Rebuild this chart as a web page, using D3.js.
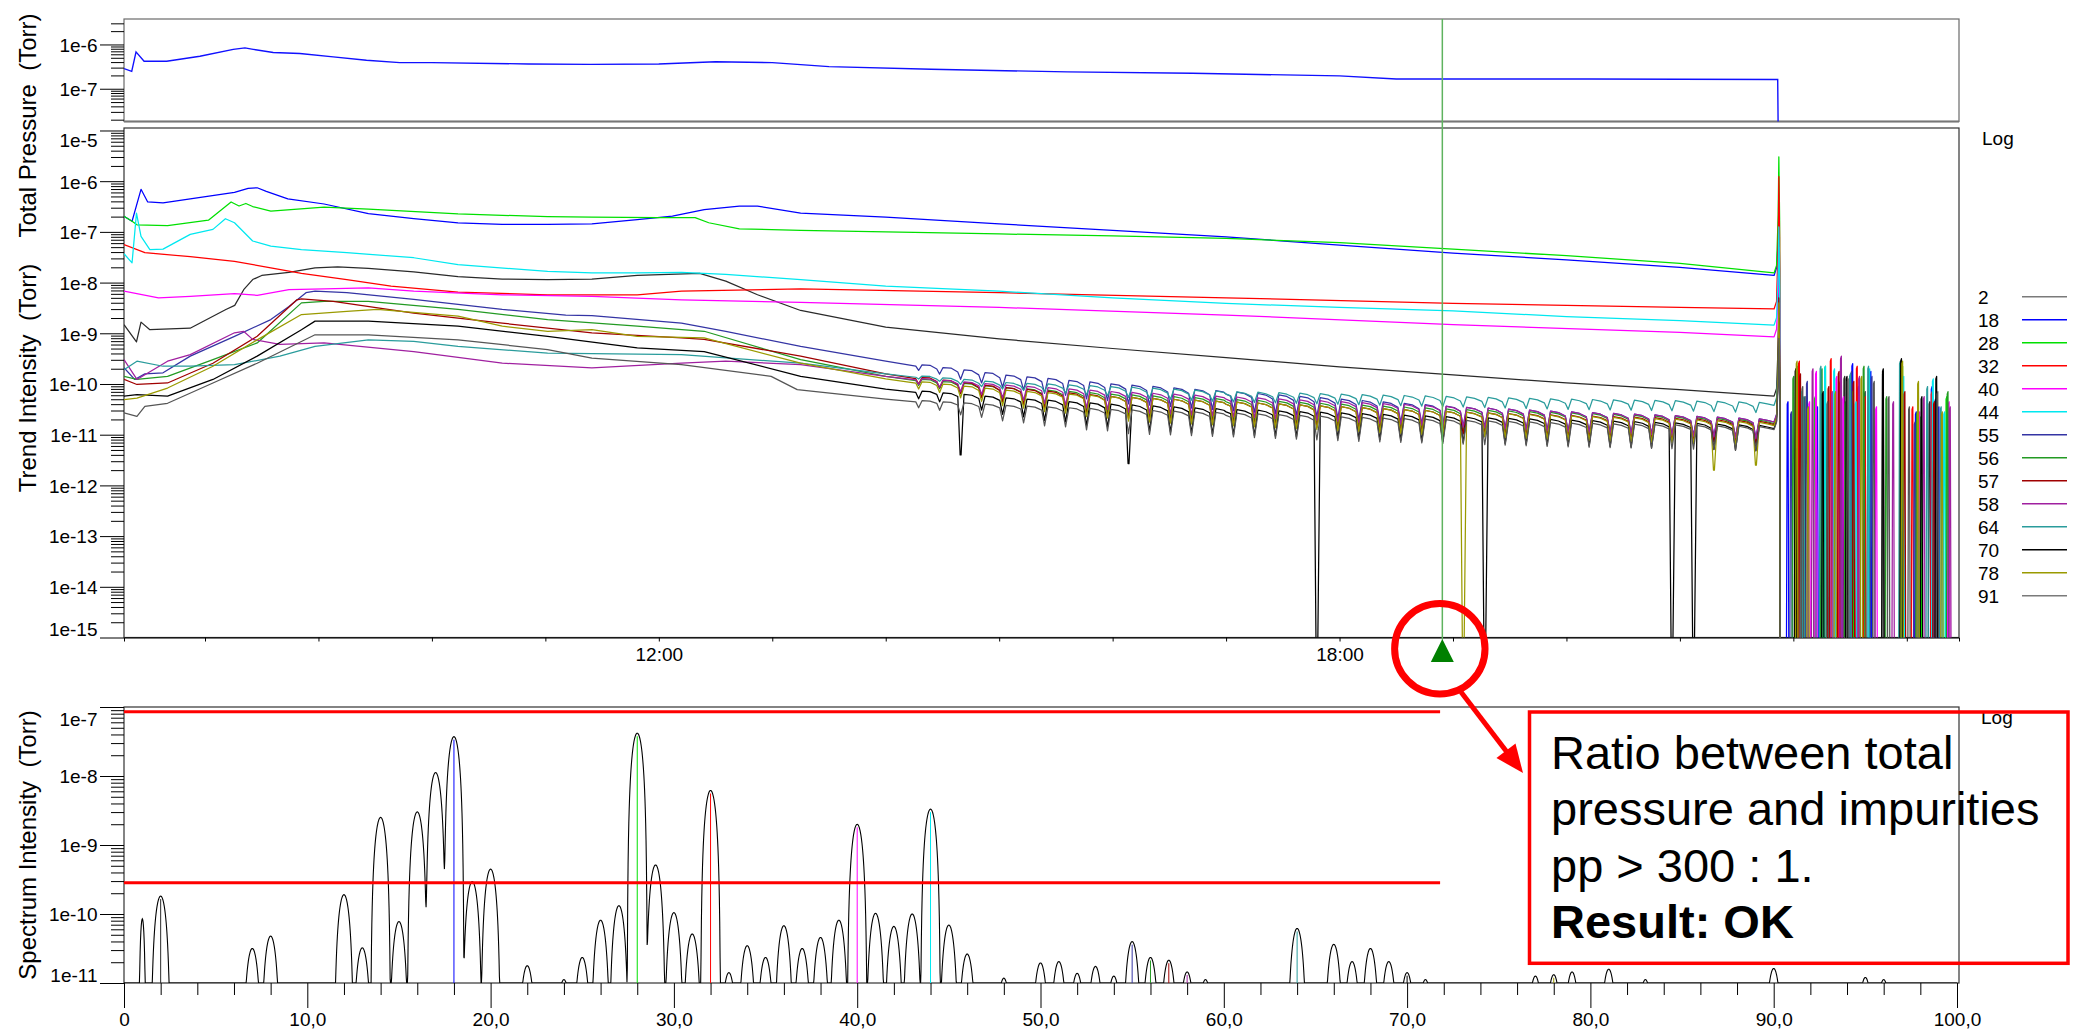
<!DOCTYPE html>
<html><head><meta charset="utf-8">
<script src="https://d3js.org/d3.v7.min.js"></script>
<style>
html,body{margin:0;padding:0;background:#fff}
svg{display:block}
text{font-family:"Liberation Sans",Arial,Helvetica,sans-serif;fill:#000}
</style></head>
<body>
<svg id="chart" width="2076" height="1033" xmlns="http://www.w3.org/2000/svg"></svg>
<script>
// ================= DATA =================
// Legend masses and colours
const masses = [2, 18, 28, 32, 40, 44, 55, 56, 57, 58, 64, 70, 78, 91];
const legendColors = ["#7a7a7a","#0000ff","#00e000","#ff0000","#ff00ff","#00e8f0","#3434a4","#239a23","#a00000","#a020a0","#2a9c9c","#000000","#9a9a00","#7a7a7a"];
const lineColors   = ["#2a2a2a","#0000ff","#00e000","#ff0000","#ff00ff","#00e8f0","#3434a4","#239a23","#a00000","#a020a0","#2a9c9c","#000000","#9a9a00","#555555"];

// time axis (decimal hours)
const timeStart = 7.286, timeEnd = 23.46;
const timeLabelHours = [12, 18];
const cursorTime = 18.906;

// Total pressure [hour, log10 Torr]
const totalPressure = [[7.286,-6.545],[7.354,-6.607],[7.392,-6.168],[7.463,-6.38],[7.662,-6.38],[7.955,-6.266],[8.249,-6.11],[8.352,-6.077],[8.425,-6.11],[8.601,-6.18],[8.836,-6.205],[9.13,-6.28],[9.423,-6.357],[9.717,-6.41],[10.0,-6.41],[10.85,-6.44],[11.4,-6.45],[12.0,-6.44],[12.5,-6.39],[13.0,-6.41],[13.5,-6.50],[14.4,-6.56],[15.6,-6.62],[16.7,-6.65],[18.0,-6.71],[18.5,-6.78],[19.0,-6.78],[20.2,-6.78],[21.0,-6.785],[21.862,-6.79],[21.866,-7.9]];

// Trend intensities [hour, log10 Torr]
const trend2  = [[7.286,-8.83],[7.396,-9.17],[7.436,-8.78],[7.514,-8.93],[7.869,-8.90],[8.184,-8.53],[8.262,-8.45],[8.341,-8.14],[8.42,-7.94],[8.50,-7.86],[8.74,-7.80],[8.97,-7.71],[9.17,-7.69],[9.44,-7.72],[9.84,-7.79],[10.23,-7.88],[10.62,-7.93],[11.02,-7.94],[11.41,-7.93],[11.81,-7.86],[12.36,-7.82],[12.59,-7.97],[12.87,-8.24],[13.25,-8.55],[14.0,-8.88],[15.0,-9.11],[16.0,-9.30],[17.0,-9.48],[18.0,-9.66],[19.0,-9.82],[20.0,-9.98],[21.0,-10.11],[21.83,-10.24]];
const trend18 = [[7.286,-6.69],[7.357,-6.79],[7.436,-6.16],[7.495,-6.41],[7.63,-6.43],[7.87,-6.35],[8.26,-6.22],[8.38,-6.14],[8.46,-6.13],[8.54,-6.20],[8.73,-6.35],[9.05,-6.45],[9.44,-6.64],[9.84,-6.74],[10.23,-6.82],[10.62,-6.85],[11.02,-6.85],[11.41,-6.84],[11.81,-6.76],[12.12,-6.69],[12.40,-6.56],[12.71,-6.49],[12.87,-6.49],[13.25,-6.63],[14.0,-6.71],[15.0,-6.84],[16.0,-6.97],[17.0,-7.10],[18.0,-7.26],[19.0,-7.42],[20.0,-7.55],[21.0,-7.70],[21.83,-7.86]];
const trend28 = [[7.286,-6.69],[7.357,-6.79],[7.40,-6.86],[7.67,-6.875],[8.03,-6.77],[8.23,-6.41],[8.30,-6.49],[8.36,-6.44],[8.42,-6.50],[8.58,-6.59],[9.05,-6.51],[9.44,-6.55],[10.23,-6.645],[11.02,-6.70],[11.41,-6.71],[12.0,-6.72],[12.32,-6.72],[12.44,-6.82],[12.71,-6.94],[13.25,-6.97],[14.0,-7.00],[15.0,-7.04],[16.0,-7.08],[17.0,-7.13],[18.0,-7.21],[19.0,-7.34],[20.0,-7.47],[21.0,-7.62],[21.83,-7.81]];
const trend32 = [[7.286,-7.25],[7.47,-7.41],[7.87,-7.49],[8.26,-7.58],[8.58,-7.71],[8.85,-7.82],[9.25,-7.94],[9.64,-8.07],[10.23,-8.19],[11.02,-8.24],[11.81,-8.24],[12.20,-8.17],[13.25,-8.125],[15.0,-8.20],[17.0,-8.30],[19.0,-8.41],[21.0,-8.49],[21.83,-8.52]];
const trend40 = [[7.286,-8.17],[7.59,-8.30],[7.87,-8.27],[8.26,-8.22],[8.46,-8.25],[8.74,-8.14],[9.05,-8.125],[9.44,-8.105],[9.84,-8.17],[10.62,-8.24],[11.41,-8.27],[12.20,-8.34],[13.25,-8.39],[15.0,-8.49],[17.0,-8.64],[19.0,-8.83],[21.0,-8.98],[21.83,-9.07]];
const trend44 = [[7.286,-7.43],[7.357,-7.61],[7.396,-6.63],[7.436,-7.09],[7.514,-7.35],[7.63,-7.34],[7.87,-7.05],[8.07,-6.95],[8.18,-6.74],[8.26,-6.82],[8.42,-7.18],[8.58,-7.28],[8.85,-7.35],[9.25,-7.41],[9.84,-7.51],[10.23,-7.645],[11.02,-7.78],[11.41,-7.81],[11.81,-7.81],[12.20,-7.80],[12.59,-7.84],[13.25,-7.94],[14.0,-8.07],[15.0,-8.17],[16.0,-8.30],[17.0,-8.41],[18.0,-8.49],[19.0,-8.56],[20.0,-8.67],[21.0,-8.75],[21.83,-8.84]];
const trend55 = [[7.286,-9.68],[7.38,-9.91],[7.47,-9.80],[7.63,-9.78],[7.87,-9.45],[8.26,-9.06],[8.58,-8.73],[8.74,-8.47],[8.89,-8.20],[8.97,-8.17],[9.25,-8.20],[9.84,-8.33],[10.62,-8.53],[11.18,-8.64],[11.41,-8.65],[12.20,-8.80],[12.59,-8.96],[13.25,-9.26],[14.0,-9.55],[15.0,-9.85],[16.0,-10.05],[17.0,-10.2],[18.0,-10.35],[19.0,-10.5],[20.0,-10.6],[21.0,-10.68],[21.83,-10.75]];
const trend56 = [[7.286,-9.85],[7.40,-9.91],[7.67,-9.85],[8.07,-9.52],[8.46,-9.19],[8.85,-8.40],[9.05,-8.37],[9.44,-8.37],[10.23,-8.53],[11.02,-8.73],[11.81,-8.86],[12.40,-8.96],[13.25,-9.52],[14.0,-9.85],[15.0,-10.1],[16.0,-10.25],[17.0,-10.35],[18.0,-10.45],[19.0,-10.55],[20.0,-10.62],[21.0,-10.7],[21.83,-10.78]];
const trend57 = [[7.286,-9.91],[7.40,-10.01],[7.67,-9.98],[8.07,-9.59],[8.46,-9.06],[8.81,-8.34],[8.85,-8.32],[9.13,-8.37],[9.84,-8.60],[10.62,-8.80],[11.41,-8.99],[12.20,-9.09],[12.40,-9.12],[13.25,-9.45],[14.0,-9.8],[15.0,-10.1],[16.0,-10.3],[17.0,-10.4],[18.0,-10.5],[19.0,-10.6],[20.0,-10.67],[21.0,-10.73],[21.83,-10.8]];
const trend58 = [[7.286,-9.52],[7.40,-9.91],[7.67,-9.55],[7.87,-9.42],[8.26,-8.99],[8.34,-8.96],[8.42,-9.12],[8.66,-9.22],[9.05,-9.19],[9.84,-9.36],[10.62,-9.59],[11.41,-9.68],[12.20,-9.59],[12.59,-9.55],[13.25,-9.62],[14.0,-9.85],[15.0,-10.05],[16.0,-10.2],[17.0,-10.3],[18.0,-10.4],[19.0,-10.5],[20.0,-10.6],[21.0,-10.68],[21.83,-10.75]];
const trend64 = [[7.286,-9.72],[7.40,-9.55],[7.63,-9.65],[7.87,-9.65],[8.26,-9.62],[8.66,-9.45],[8.97,-9.26],[9.44,-9.13],[9.84,-9.16],[10.23,-9.26],[11.02,-9.39],[12.20,-9.42],[13.25,-9.59],[14.0,-9.8],[15.0,-10.0],[16.0,-10.1],[17.0,-10.2],[18.0,-10.25],[19.0,-10.3],[20.0,-10.35],[21.0,-10.38],[21.83,-10.42]];
const trend70 = [[7.286,-10.24],[7.40,-10.21],[7.67,-10.24],[8.07,-9.91],[8.46,-9.45],[8.85,-8.93],[8.97,-8.76],[9.44,-8.76],[10.23,-8.86],[11.02,-9.06],[11.81,-9.29],[12.40,-9.36],[13.25,-9.85],[14.0,-10.1],[15.0,-10.3],[16.0,-10.45],[17.0,-10.55],[18.0,-10.62],[19.0,-10.7],[20.0,-10.76],[21.0,-10.82],[21.83,-10.88]];
const trend78 = [[7.286,-10.31],[7.40,-10.28],[7.67,-10.08],[8.07,-9.65],[8.46,-9.13],[8.85,-8.63],[9.25,-8.57],[9.52,-8.53],[10.23,-8.66],[10.62,-8.86],[11.02,-8.96],[11.41,-8.93],[11.81,-9.06],[12.40,-9.09],[13.25,-9.59],[14.0,-9.9],[15.0,-10.15],[16.0,-10.3],[17.0,-10.4],[18.0,-10.5],[19.0,-10.6],[20.0,-10.68],[21.0,-10.75],[21.83,-10.82]];
const trend91 = [[7.286,-10.57],[7.40,-10.64],[7.47,-10.44],[7.67,-10.38],[8.07,-9.98],[8.46,-9.59],[8.97,-9.03],[9.44,-9.03],[10.23,-9.13],[11.02,-9.32],[11.41,-9.49],[12.20,-9.62],[12.99,-9.85],[13.22,-10.11],[14.0,-10.3],[15.0,-10.45],[16.0,-10.55],[17.0,-10.62],[18.0,-10.7],[19.0,-10.76],[20.0,-10.82],[21.0,-10.86],[21.83,-10.9]];
const trendSeries = [trend2,trend18,trend28,trend32,trend40,trend44,trend55,trend56,trend57,trend58,trend64,trend70,trend78,trend91];

// periodic dips of the low-level masses (hours), relative strength, depth per mass (decades)
const dipTimes = [14.29,14.475,14.66,14.845,15.03,15.215,15.40,15.585,15.77,15.955,16.14,16.325,16.51,16.695,16.88,17.065,17.25,17.435,17.62,17.80,17.985,18.17,18.355,18.54,18.725,18.91,19.09,19.28,19.46,19.645,19.83,20.015,20.20,20.385,20.57,20.75,20.93,21.12,21.30,21.49,21.67];
const dipScale = [0.3,0.35,0.5,0.55,0.65,0.7,0.8,0.8,0.9,0.9,1,1,1,1,1,1,1,1,1,1,1,1,1,1,1,1,1,1,1,1,1,1,1,1,1,1,1,1,1,1,1];
const dipDepth = [0,0,0,0,0,0,0.32,0.36,0.38,0.34,0.15,0.45,0.42,0.42];
const deepDips70 = [[14.66,-11.4],[16.14,-11.57],[17.80,-16],[19.28,-16],[20.93,-16],[21.12,-16]];
const deepDips78 = [[19.09,-16],[21.30,-11.7],[21.67,-11.6]];
const deepDips = {70: deepDips70, 78: deepDips78};

// burst at the end of the run (peak log10 Torr)
const burstPeak = [-8.2,-6.53,-5.52,-5.91,-7.3,-6.9,-8.6,-8.8,-8.3,-9.0,-8.9,-8.7,-8.4,-9.1];
// noisy tail after the burst: [hour, peak log10 Torr]
const tail2  = [[22.03,-9.7],[22.10,-10.3],[22.45,-9.9],[22.63,-10.2],[22.79,-9.8],[22.95,-9.6],[23.20,-10.4]];
const tail18 = [[21.95,-10.4],[22.05,-9.8],[22.21,-10.5],[22.52,-9.65],[22.57,-10.1],[22.68,-9.8],[23.08,-10.6],[23.22,-10.1],[23.28,-10.5]];
const tail28 = [[22.03,-9.8],[22.19,-10.3],[22.28,-9.7],[22.52,-10.2],[22.96,-9.7],[23.12,-10.7],[23.35,-10.3]];
const tail32 = [[22.05,-9.6],[22.33,-9.55],[22.41,-10.0],[22.56,-9.7],[22.63,-10.3],[23.05,-10.5],[23.22,-10.2]];
const tail40 = [[22.14,-10.4],[22.20,-9.8],[22.38,-9.9],[22.44,-10.3],[22.73,-10.5],[23.11,-10.6],[23.37,-10.4]];
const tail44 = [[22.07,-10.2],[22.28,-9.7],[22.36,-9.75],[22.55,-10.4],[22.67,-9.75],[22.97,-9.9],[23.23,-9.95],[23.33,-10.6]];
const tail55 = [[21.98,-10.6],[22.12,-10.0],[22.42,-9.7],[22.51,-9.8],[22.69,-9.9],[23.07,-10.8],[23.25,-10.35]];
const tail56 = [[22.00,-9.9],[22.25,-9.75],[22.46,-10.4],[22.62,-9.7],[22.82,-10.3],[23.09,-10.6],[23.36,-10.2]];
const tail57 = [[22.06,-9.85],[22.31,-10.1],[22.40,-9.8],[22.53,-10.0],[22.98,-10.2],[23.24,-10.4]];
const tail58 = [[22.17,-9.75],[22.34,-10.2],[22.42,-9.5],[22.58,-9.9],[22.88,-10.4],[23.15,-10.3],[23.38,-10.5]];
const tail64 = [[22.09,-10.3],[22.24,-9.7],[22.50,-9.85],[22.66,-9.7],[22.94,-9.6],[23.18,-10.1],[23.30,-10.5]];
const tail70 = [[22.02,-9.75],[22.26,-10.2],[22.47,-9.9],[22.79,-9.75],[22.95,-9.55],[23.13,-10.3],[23.26,-9.9]];
const tail78 = [[22.03,-9.6],[22.13,-10.5],[22.37,-10.2],[22.60,-9.9],[22.96,-9.6],[23.10,-10.0],[23.31,-10.6]];
const tail91 = [[22.08,-10.1],[22.30,-10.4],[22.48,-9.95],[22.71,-10.0],[22.84,-10.3],[23.02,-10.5],[23.27,-10.2]];
const tailSeries = [tail2,tail18,tail28,tail32,tail40,tail44,tail55,tail56,tail57,tail58,tail64,tail70,tail78,tail91];
const FLOOR = -16;

// Spectrum peaks [mass (amu), log10 Torr]
const specPeaks = [[1,-10.07],[2,-9.74],[7,-10.50],[8,-10.32],[12,-9.72],[13,-10.49],[14,-8.60],[15,-10.11],[16,-8.52],[17,-7.95],[18,-7.43],[19,-9.53],[20,-9.35],[22,-10.75],[24,-10.95],[25,-10.63],[26,-10.09],[27,-9.88],[28,-7.38],[29,-9.29],[30,-9.98],[31,-10.29],[32,-8.21],[33,-10.85],[34,-10.46],[35,-10.63],[36,-10.17],[37,-10.50],[38,-10.34],[39,-10.09],[40,-8.70],[41,-9.99],[42,-10.18],[43,-10.00],[44,-8.48],[45,-10.16],[46,-10.58],[48,-10.93],[50,-10.71],[51,-10.69],[52,-10.86],[53,-10.76],[54,-10.90],[55,-10.40],[56,-10.63],[57,-10.67],[58,-10.84],[59,-10.95],[64,-10.21],[66,-10.44],[67,-10.69],[68,-10.50],[69,-10.69],[70,-10.85],[71,-10.95],[77,-10.90],[78,-10.88],[79,-10.84],[81,-10.80],[83,-10.95],[90,-10.79],[95,-10.92],[96,-10.95]];
const narrowPeaks = [1];
const ratioLines = [8.5e-8, 2.83e-10];   // ratio 300 : 1
const ratioLineEndMass = 71.8;

// Annotation text
const noteLines = ["Ratio between total", "pressure and impurities", "pp > 300 : 1."];
const noteResult = "Result: OK";

// ================= LAYOUT =================
const svg = d3.select("#chart");
const X0 = 124, X1 = 1959;
const P1 = {top: 19, bottom: 121.5};
const P2 = {top: 128, bottom: 637.5};
const P3 = {top: 707, bottom: 983};
const FONT = '"Liberation Sans", Arial, sans-serif';

const hourDate = h => new Date(Date.UTC(2020, 0, 1) + h * 3600e3);
const x = d3.scaleUtc().domain([hourDate(timeStart), hourDate(timeEnd)]).range([X0, X1]);
const yTop = d3.scaleLog().domain([Math.pow(10,-7.74), Math.pow(10,-5.425)]).range([P1.bottom, P1.top]);
const yMid = d3.scaleLog().domain([1e-15, Math.pow(10,-4.951)]).range([P2.bottom, P2.top]);
const ySpec = d3.scaleLog().domain([1e-11, 1e-7]).range([P3.bottom, P3.top]);
const xSpec = d3.scaleLinear().domain([0, 100]).range([X0, 1957]);

// clip paths
const defs = svg.append("defs");
[["c1",P1],["c2",P2],["c3",P3]].forEach(([id,p]) => {
  defs.append("clipPath").attr("id", id).append("rect")
    .attr("x", X0).attr("y", p.top).attr("width", X1 - X0).attr("height", p.bottom - p.top);
});

function minorLogTicks(dom) {
  const out = [];
  const lo = Math.floor(Math.log10(dom[0])) - 1, hi = Math.ceil(Math.log10(dom[1]));
  for (let e = lo; e <= hi; e++) for (let k = 2; k <= 9; k++) {
    const v = k * Math.pow(10, e);
    if (v > dom[0] * 1.0001 && v < dom[1] * 0.9999) out.push(v);
  }
  return out;
}
function drawLogAxis(scale, majors, p) {
  const g = svg.append("g").attr("transform", `translate(${X0},0)`);
  g.append("g").call(d3.axisLeft(scale).tickValues(minorLogTicks(scale.domain())).tickSize(13).tickFormat(""))
    .call(a => a.select(".domain").remove());
  const mg = g.append("g").call(d3.axisLeft(scale).tickValues(majors).tickSize(24).tickPadding(2.5)
      .tickFormat(d => "1e" + Math.round(Math.log10(d))))
    .call(a => a.select(".domain").remove());
  mg.attr("font-size", 19).attr("font-family", FONT);
  mg.selectAll(".tick text").attr("fill", "#000").attr("dy", "0.36em")
    .attr("y", d => { const yy = scale(d); const c = Math.max(p.top + 11.5, Math.min(p.bottom - 8.5, yy)); return c - yy; });
  g.selectAll(".tick line").attr("stroke", "#000").attr("stroke-width", 1);
}

// ---------- panel frames ----------
svg.append("rect").attr("x", X0).attr("y", P1.top).attr("width", X1 - X0).attr("height", P1.bottom - P1.top)
  .attr("fill", "none").attr("stroke", "#6a6a6a").attr("stroke-width", 1.2);
svg.append("line").attr("x1", X0).attr("x2", X1).attr("y1", P1.bottom).attr("y2", P1.bottom)
  .attr("stroke", "#777").attr("stroke-width", 2);
svg.append("rect").attr("x", X0).attr("y", P2.top).attr("width", X1 - X0).attr("height", P2.bottom - P2.top)
  .attr("fill", "none").attr("stroke", "#333").attr("stroke-width", 1.2);
svg.append("rect").attr("x", X0).attr("y", P3.top).attr("width", X1 - X0).attr("height", P3.bottom - P3.top)
  .attr("fill", "none").attr("stroke", "#333").attr("stroke-width", 1.2);

// ---------- axes ----------
drawLogAxis(yTop, [1e-7, 1e-6], P1);
drawLogAxis(yMid, d3.range(-15, -4).map(e => Math.pow(10, e)), P2);
drawLogAxis(ySpec, d3.range(-11, -6).map(e => Math.pow(10, e)), P3);

const xa = svg.append("g").attr("transform", `translate(0,${P2.bottom})`)
  .call(d3.axisBottom(x).ticks(d3.utcHour.every(1)).tickSize(4).tickPadding(6)
    .tickFormat(d => timeLabelHours.includes(d.getUTCHours()) ? d3.utcFormat("%H:%M")(d) : ""));
xa.attr("font-size", 19).attr("font-family", FONT);
xa.select(".domain").attr("stroke", "#000");
xa.selectAll(".tick line").attr("stroke", "#000");
xa.selectAll(".tick text").attr("fill", "#000");

const specMinor = d3.range(2, 100, 2).filter(v => v % 10 !== 0);
const specMajor = d3.range(0, 101, 10);
svg.append("g").attr("transform", `translate(0,${P3.bottom})`)
  .call(d3.axisBottom(xSpec).tickValues(specMinor).tickSize(12).tickFormat(""))
  .call(a => { a.select(".domain").remove(); a.selectAll(".tick line").attr("stroke", "#000"); });
const sx = svg.append("g").attr("transform", `translate(0,${P3.bottom})`)
  .call(d3.axisBottom(xSpec).tickValues(specMajor).tickSize(25).tickPadding(5)
    .tickFormat(d => d === 0 ? "0" : d3.format(".1f")(d).replace(".", ",")));
sx.attr("font-size", 19).attr("font-family", FONT);
sx.select(".domain").remove();
sx.selectAll(".tick line").attr("stroke", "#000");
sx.selectAll(".tick text").attr("fill", "#000");

// ---------- axis titles ----------
function vtitle(txt, cx, cy) {
  svg.append("text").attr("transform", `translate(${cx},${cy}) rotate(-90)`)
    .attr("text-anchor", "middle").attr("font-size", 24).style("white-space", "pre").text(txt);
}
vtitle("Total Pressure  (Torr)", 36, 125.5);
vtitle("Trend Intensity  (Torr)", 36, 378);
vtitle("Spectrum Intensity  (Torr)", 36, 845);

svg.append("text").attr("x", 1982).attr("y", 145).attr("font-size", 19).text("Log");
svg.append("text").attr("x", 1981).attr("y", 724).attr("font-size", 19).text("Log");

// ---------- top panel: total pressure ----------
const lineTop = d3.line().x(d => x(hourDate(d[0]))).y(d => yTop(Math.pow(10, d[1])));
svg.append("path").attr("clip-path", "url(#c1)").datum(totalPressure)
  .attr("d", lineTop).attr("fill", "none").attr("stroke", "#1010ff").attr("stroke-width", 1.4);

// ---------- middle panel: trends ----------
function buildTrend(i) {
  const env = trendSeries[i];
  const envScale = d3.scaleLinear().domain(env.map(d => d[0])).range(env.map(d => d[1]));
  let pts = env.slice();
  const depth = dipDepth[i];
  if (depth > 0) {
    const deep = deepDips[masses[i]] || [];
    pts = pts.filter(p => !dipTimes.some(t => p[0] > t - 0.04 && p[0] < t + 0.12));
    dipTimes.forEach((t, k) => {
      const e = envScale(t);
      const s = dipScale[k];
      const dd = deep.find(d => Math.abs(d[0] - t) < 0.02);
      const low = dd ? dd[1] : e - depth * s;
      if (dd) pts.push([t - 0.025, e - 0.03 * s], [t - 0.004, low], [t + 0.004, low], [t + 0.03, e + 0.05 * s], [t + 0.1, e + 0.02 * s]);
      else pts.push([t - 0.025, e - 0.03 * s], [t, low], [t + 0.03, e + 0.05 * s], [t + 0.1, e + 0.02 * s]);
    });
    pts.sort((a, b) => a[0] - b[0]);
  }
  const last = env[env.length - 1][1];
  const pk = burstPeak[i];
  pts.push([21.852, last + 0.15], [21.866, (last + pk) / 2], [21.872, pk], [21.879, pk - 1.2], [21.886, FLOOR]);
  tailSeries[i].forEach(([t, v]) => {
    pts.push([t - 0.012, FLOOR], [t - 0.004, v], [t + 0.003, v + 0.05], [t + 0.011, FLOOR]);
  });
  pts.push([timeEnd, FLOOR]);
  return pts;
}
const lineMid = d3.line().x(d => x(hourDate(d[0]))).y(d => yMid(Math.pow(10, d[1])));
const gMid = svg.append("g").attr("clip-path", "url(#c2)");
masses.forEach((m, i) => {
  gMid.append("path").datum(buildTrend(i)).attr("d", lineMid)
    .attr("fill", "none").attr("stroke", lineColors[i]).attr("stroke-width", 1.25)
    .attr("stroke-linejoin", "round");
});

// legend
const lg = svg.append("g");
masses.forEach((m, i) => {
  const yy = 296.7 + 23 * i;
  lg.append("text").attr("x", 1978).attr("y", yy).attr("dy", "0.36em").attr("font-size", 19).text(m);
  lg.append("line").attr("x1", 2022).attr("x2", 2067).attr("y1", yy).attr("y2", yy)
    .attr("stroke", legendColors[i]).attr("stroke-width", 1.4);
});

// ---------- spectrum ----------
const specXs = d3.range(0, 100.0001, 0.02);
const specData = specXs.map(m => {
  let v = 0;
  specPeaks.forEach(([pm, ph]) => {
    const w = narrowPeaks.includes(pm) ? 0.2 : 0.55;
    const u = (m - pm) / w;
    if (Math.abs(u) < 1) v += Math.pow(10, ph) * Math.pow(1 - u * u, 2.5);
  });
  return [m, Math.max(v, 1e-11)];
});
const gSpec = svg.append("g").attr("clip-path", "url(#c3)");
masses.forEach((m, i) => {
  const pk = specPeaks.find(p => p[0] === m);
  if (!pk) return;
  gSpec.append("line").attr("x1", xSpec(m)).attr("x2", xSpec(m))
    .attr("y1", ySpec(1e-11)).attr("y2", ySpec(Math.pow(10, pk[1])) + 3)
    .attr("stroke", lineColors[i]).attr("stroke-width", 1);
});
gSpec.append("path").datum(specData)
  .attr("d", d3.line().x(d => xSpec(d[0])).y(d => ySpec(d[1])))
  .attr("fill", "none").attr("stroke", "#000").attr("stroke-width", 1.1);
ratioLines.forEach(v => {
  svg.append("line").attr("x1", X0).attr("x2", xSpec(ratioLineEndMass))
    .attr("y1", ySpec(v)).attr("y2", ySpec(v)).attr("stroke", "#ff0000").attr("stroke-width", 3);
});

// ---------- cursor ----------
const cx = x(hourDate(cursorTime));
svg.append("line").attr("x1", cx).attr("x2", cx).attr("y1", P1.top).attr("y2", P2.bottom + 2)
  .attr("stroke", "#5fb35f").attr("stroke-width", 1.5);
svg.append("path").attr("d", `M${cx},${P2.bottom + 1.5} L${cx - 11.5},${P2.bottom + 24.5} L${cx + 11.5},${P2.bottom + 24.5} Z`)
  .attr("fill", "#008000");

// ---------- annotation ----------
const circ = {x: cx - 2.5, y: 648.7, r: 45.2};
svg.append("circle").attr("cx", circ.x).attr("cy", circ.y).attr("r", circ.r)
  .attr("fill", "none").attr("stroke", "#ff0000").attr("stroke-width", 7);
const a0 = [1461, 692], tip = [1523, 773];
const len = Math.hypot(tip[0] - a0[0], tip[1] - a0[1]);
const ux = (tip[0] - a0[0]) / len, uy = (tip[1] - a0[1]) / len;
const hb = [tip[0] - ux * 28, tip[1] - uy * 28];
svg.append("line").attr("x1", a0[0]).attr("y1", a0[1]).attr("x2", hb[0] + ux * 4).attr("y2", hb[1] + uy * 4)
  .attr("stroke", "#ff0000").attr("stroke-width", 5);
svg.append("path").attr("d", `M${tip[0]},${tip[1]} L${hb[0] + uy * 12},${hb[1] - ux * 12} L${hb[0] - uy * 12},${hb[1] + ux * 12} Z`)
  .attr("fill", "#ff0000");
svg.append("rect").attr("x", 1529.5).attr("y", 712).attr("width", 538.5).attr("height", 251.3)
  .attr("fill", "none").attr("stroke", "#ff0000").attr("stroke-width", 3.5);
const nt = svg.append("g").attr("font-size", 47);
noteLines.forEach((t, i) => {
  nt.append("text").attr("x", 1551).attr("y", [769, 825, 882][i]).text(t);
});
nt.append("text").attr("x", 1551).attr("y", 938).attr("font-weight", "bold").text(noteResult);
</script>
</body></html>
